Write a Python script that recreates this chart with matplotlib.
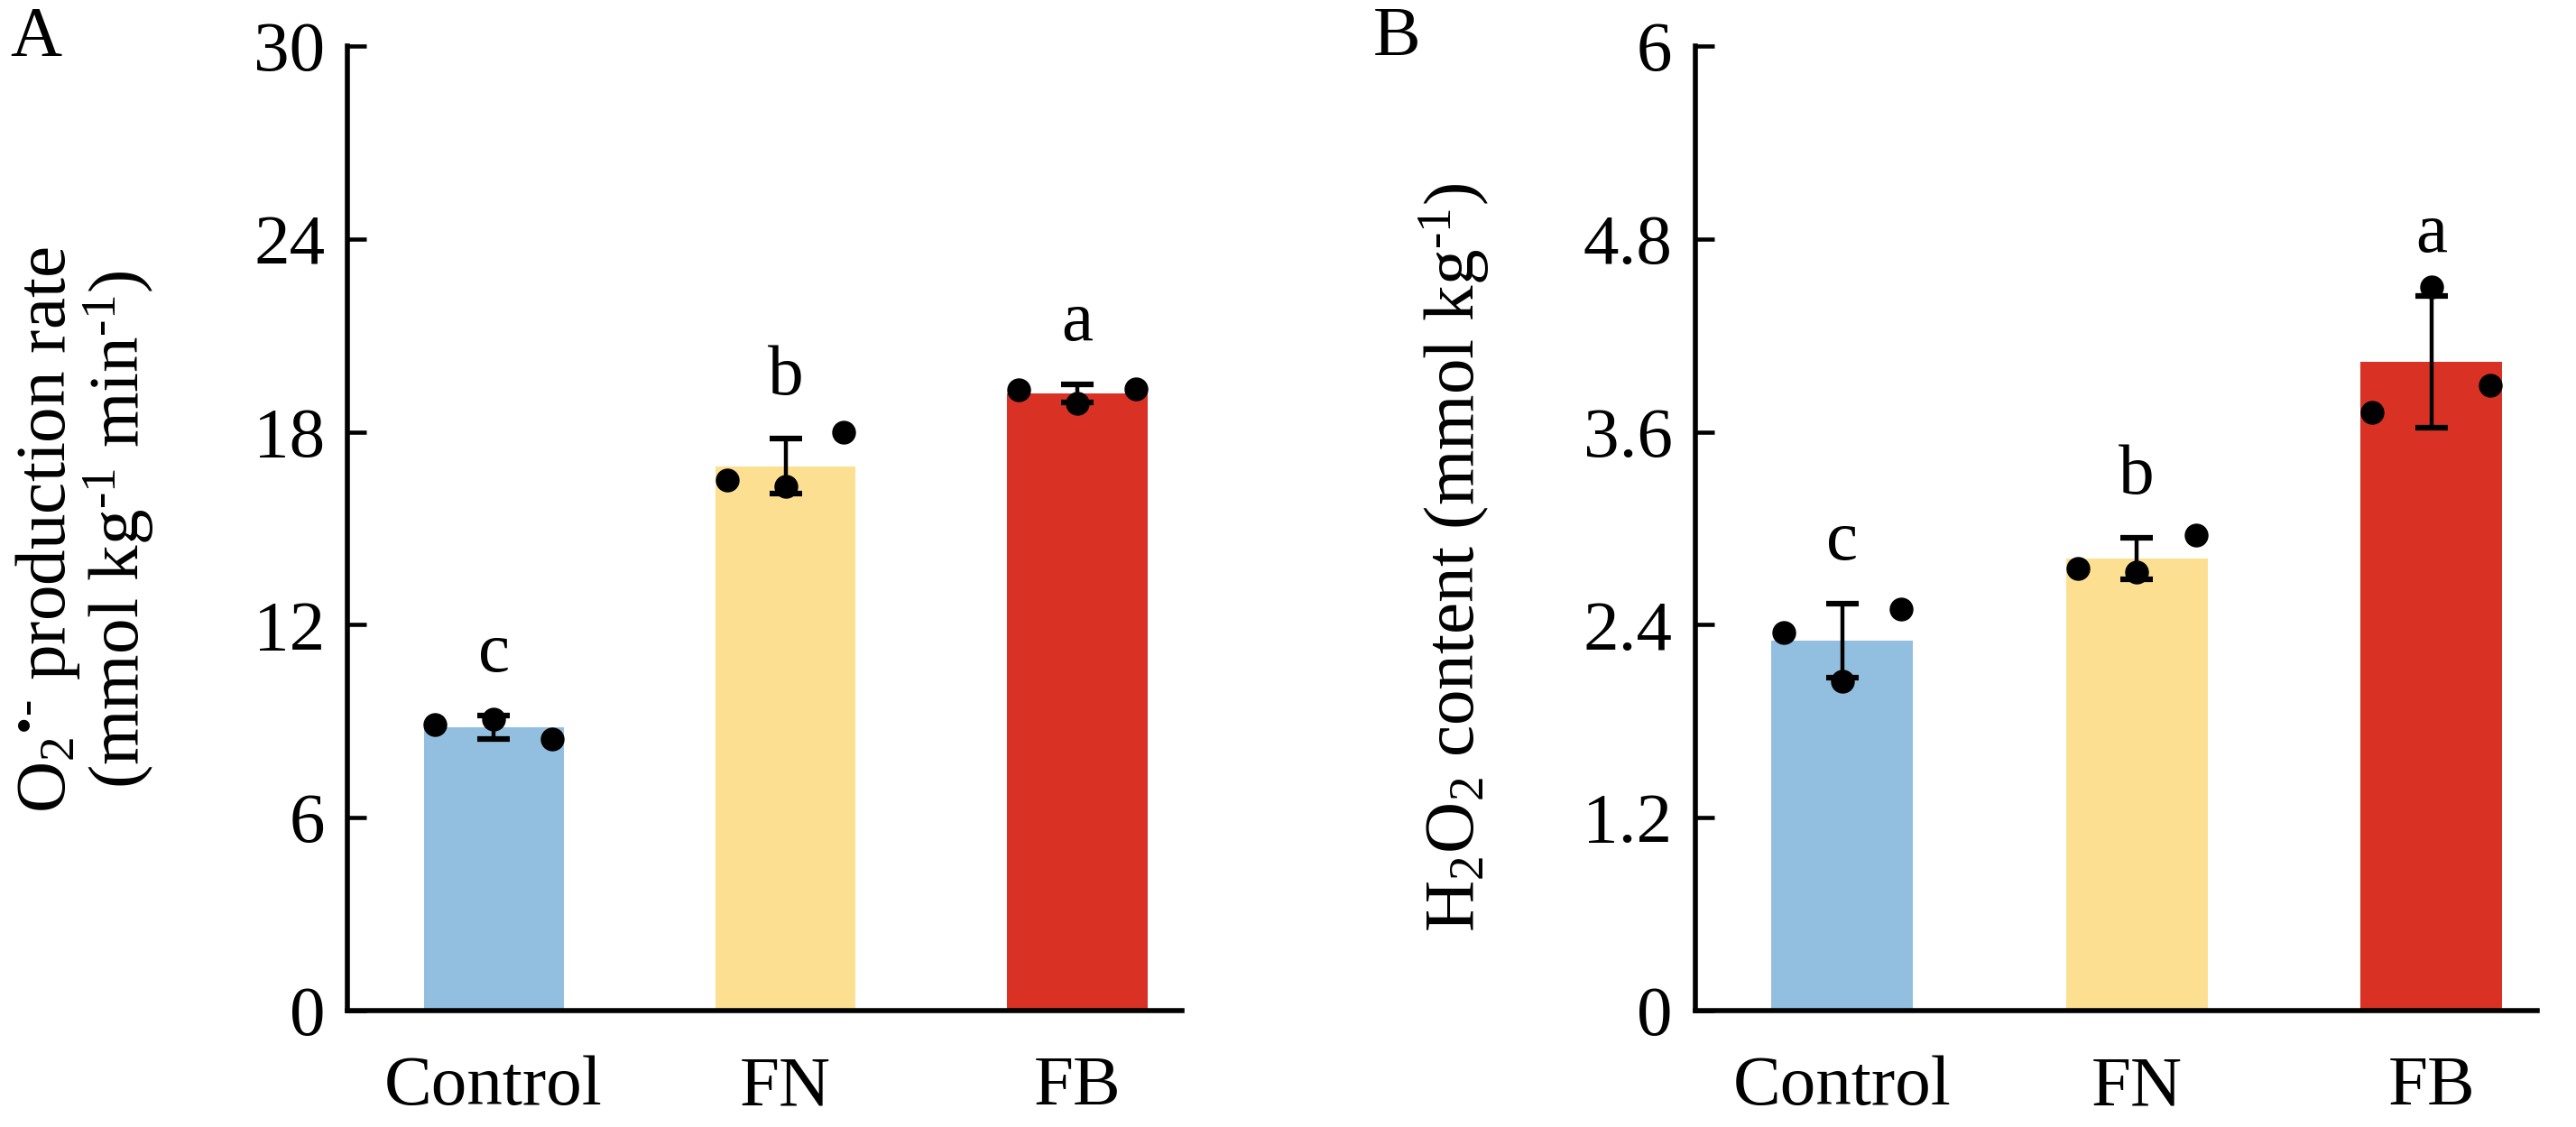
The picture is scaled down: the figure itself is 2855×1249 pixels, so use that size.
import numpy as np
import matplotlib
matplotlib.use('Agg')
import matplotlib.pyplot as plt

plt.rcParams['font.family'] = ['Liberation Serif', 'DejaVu Serif']
plt.rcParams['mathtext.fontset'] = 'custom'
plt.rcParams['mathtext.rm'] = 'Liberation Serif'
plt.rcParams['mathtext.it'] = 'Liberation Serif:italic'
plt.rcParams['mathtext.bf'] = 'Liberation Serif:bold'

# data
groups = ['Control', 'FN', 'FB']
colors = ['#92bfe0', '#fddf92', '#d93225']

o2_points = [[8.9, 9.05, 8.45], [16.5, 16.3, 18.0], [19.3, 18.9, 19.35]]
o2_sd = [0.36, 0.85, 0.28]
o2_letters = ['c', 'b', 'a']

h2o2_points = [[2.35, 2.05, 2.50], [2.75, 2.73, 2.96], [3.72, 4.50, 3.89]]
h2o2_sd = [0.23, 0.13, 0.41]
h2o2_letters = ['c', 'b', 'a']

o2_ticks = [0, 6, 12, 18, 24, 30]
h2o2_ticks = [0, 1.2, 2.4, 3.6, 4.8, 6]
h2o2_ticklabels = ['0', '1.2', '2.4', '3.6', '4.8', '6']

fs = 57
hy = '\u2010'  # plain hyphen for the superscripts
fig = plt.figure(figsize=(28.55, 12.49), dpi=100)
axA = fig.add_axes([0.135, 0.1035, 0.324, 0.8555])
axB = fig.add_axes([0.658, 0.1035, 0.327, 0.8555])


def draw_panel(ax, points, sd, letters, ticks, ymax):
    x = np.arange(len(groups))
    means = [np.mean(p) for p in points]
    ax.bar(x, means, width=0.48, color=colors, zorder=1)
    ax.errorbar(x, means, yerr=sd, fmt='none', ecolor='black',
                elinewidth=3.2, capsize=13, capthick=4.5, zorder=3)
    for i, p in enumerate(points):
        ax.plot(x[i] + np.array([-0.2, 0, 0.2]), p, 'o', color='black',
                markersize=18, zorder=4, clip_on=False)
        ax.text(x[i], means[i] + sd[i] + 0.03 * ymax, letters[i],
                ha='center', va='bottom', fontsize=fs)
    ax.set_xlim(-0.5, 2.36)
    ax.set_ylim(0, ymax)
    ax.set_yticks(ticks)
    ax.set_xticks(x)
    ax.set_xticklabels(groups)
    for s in ['top', 'right']:
        ax.spines[s].set_visible(False)
    for s in ['left', 'bottom']:
        ax.spines[s].set_linewidth(4)
    ax.tick_params(axis='y', direction='in', length=15, width=3.3,
                   labelsize=fs, pad=18)
    ax.tick_params(axis='x', length=0, labelsize=fs, pad=36)


draw_panel(axA, o2_points, o2_sd, o2_letters, o2_ticks, 30)
draw_panel(axB, h2o2_points, h2o2_sd, h2o2_letters, h2o2_ticks, 6)
axB.set_yticklabels(h2o2_ticklabels)

fig.text(0.033, 0.53,
         'O$_2$$^{\\mathrm{\u2022' + hy + '}}$ production rate\n'
         '(mmol kg$^{\\mathrm{' + hy + '1}}$ min$^{\\mathrm{' + hy + '1}}$)',
         rotation=90, ha='center', va='center', ma='center', fontsize=fs,
         linespacing=1.0)
fig.text(0.5644, 0.505, 'H$_2$O$_2$ content (mmol kg$^{\\mathrm{' + hy + '1}}$)',
         rotation=90, ha='center', va='center', fontsize=fs)

fig.text(0.004, 0.995, 'A', ha='left', va='top', fontsize=fs)
fig.text(0.533, 0.995, 'B', ha='left', va='top', fontsize=fs)

fig.savefig('out.png', dpi=100)
